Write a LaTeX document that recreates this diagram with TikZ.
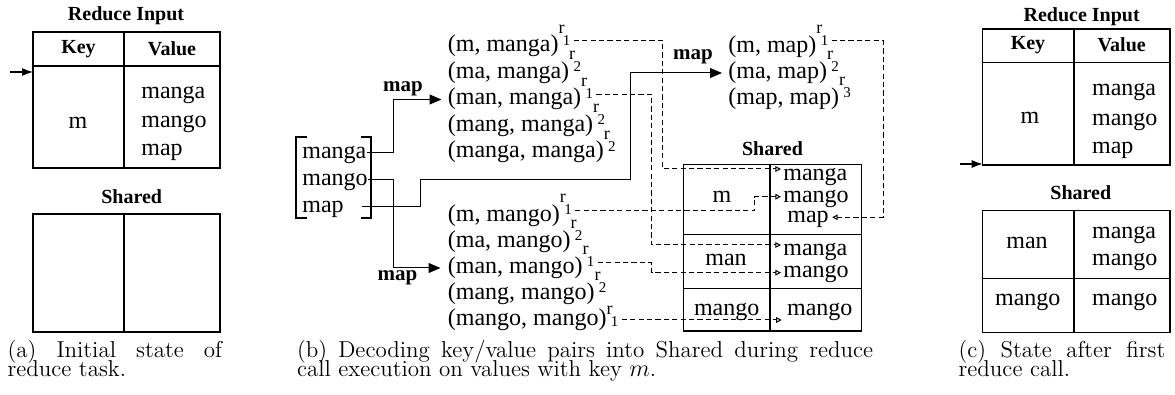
\documentclass[tikz,border=0pt]{standalone}
\usepackage{fontspec}
\newfontfamily\tms{Liberation Serif}
\usetikzlibrary{arrows.meta,calc}
\newcommand{\rsup}[2][0pt]{\raisebox{\dimexpr 9.3pt-#1\relax}{\fontsize{9}{9}\selectfont r}\kern-0.8pt\raisebox{\dimexpr 3.3pt-#1\relax}{\fontsize{7.5}{7.5}\selectfont #2}}
\begin{document}
\begin{tikzpicture}[x=0.5pt,y=-0.5pt,
  txt/.style={font=\tms\fontsize{12}{12}\selectfont, inner sep=0pt, text height=8.4pt, text depth=3pt, anchor=west},
  ctxt/.style={txt, anchor=center},
  bld/.style={font=\tms\bfseries\fontsize{10}{10}\selectfont, inner sep=0pt},
  mapl/.style={font=\tms\bfseries\fontsize{10.5}{10.5}\selectfont, inner sep=0pt},
  captxt/.style={font=\fontsize{11.5}{11.5}\selectfont, inner sep=0pt, anchor=base west},
  tbl/.style={line width=0.6pt},
  sol/.style={line width=0.5pt, -{Triangle[length=6pt,width=5pt]}},
  sarr/.style={line width=0.6pt, -{Latex[length=5.5pt,width=4pt]}},
  dsh/.style={line width=0.5pt, dash pattern=on 2.6pt off 1.6pt, -{Triangle[open,length=2.8pt,width=2.8pt]}},
]
\useasboundingbox (0,0) rectangle (1175,395);

% ---------- Panel (a)
\node[bld] (ta) at (126,16) {Reduce Input};
\draw[tbl] (33,32) rectangle (220,168);
\draw[tbl] (124,32) -- (124,168);
\draw[tbl] (33,66) -- (220,66);
\node[bld] (ka) at (78.5,49) {Key};
\node[bld] (va) at (172,49) {Value};
\node[ctxt] (kma) at (78,123) {m};
\node[txt] (va1) at (141,93) {manga};
\node[txt] (va2) at (141,122) {mango};
\node[txt] (va3) at (141,150) {map};
\coordinate (pa0) at (10,72);
\coordinate (pa1) at (33,72);
\draw[sarr] (pa0) -- (pa1);
\node[bld] (sha) at (131.7,197) {Shared};
\draw[tbl] (33,214) rectangle (220,332);
\draw[tbl] (124,214) -- (124,332);
\node[captxt] (capa1) at (7.3,357.5) {\makebox[107.2pt][s]{(a) Initial state of}};
\node[captxt] (capa2) at (7.3,377) {reduce task.};

% ---------- Panel (b)
\draw[tbl] (307,137) -- (296,137) -- (296,218) -- (307,218);
\draw[tbl] (361,137) -- (371,137) -- (371,218) -- (361,218);
\node[txt] (sg) at (302,153) {manga};
\node[txt] (so) at (302,180) {mango};
\node[txt] (sp) at (302,207) {map};

\node[txt] (t1) at (447.5,46.5) {(m, manga)\rsup{1}};
\node[txt] (t2) at (447.5,73) {(ma, manga)\rsup{2}};
\node[txt] (t3) at (447.5,99.5) {(man, manga)\rsup{1}};
\node[txt] (t4) at (447.5,126) {(mang, manga)\rsup{2}};
\node[txt] (t5) at (447.5,152.5) {(manga, manga)\rsup{2}};

\node[txt] (b1) at (447.5,216) {(m, mango)\rsup{1}};
\node[txt] (b2) at (447.5,242) {(ma, mango)\rsup{2}};
\node[txt] (b3) at (447.5,268) {(man, mango)\rsup{1}};
\node[txt] (b4) at (447.5,294) {(mang, mango)\rsup{2}};
\node[txt] (b5) at (447.5,320) {(mango, mango)\rsup[4pt]{1}};

\node[txt] (r1) at (728,47) {(m, map)\rsup{1}};
\node[txt] (r2) at (728,73) {(ma, map)\rsup{2}};
\node[txt] (r3) at (728,99) {(map, map)\rsup{3}};

\node[mapl] (lm1) at (403,89) {map};
\node[mapl] (lm2) at (397.5,278) {map};
\node[mapl] (lm3) at (693,57) {map};

\node[bld] (shb) at (772.5,148.3) {Shared};
\draw[tbl] (683.3,164.3) rectangle (861.7,331);
\draw[tbl] (770,164.3) -- (770,331);
\draw[tbl] (683.3,234.3) -- (861.7,234.3);
\draw[tbl] (683.3,288.3) -- (861.7,288.3);
\node[ctxt] (sm) at (722,196.7) {m};
\node[ctxt] (sn) at (726,260) {man};
\node[ctxt] (sgo) at (726.7,310) {mango};
\node[txt] (s1) at (783,175) {manga};
\node[txt] (s2) at (783,196.7) {mango};
\node[txt] (s3) at (787,217.3) {map};
\node[txt] (s4) at (783,250) {manga};
\node[txt] (s5) at (783,271.7) {mango};
\node[txt] (s6) at (786.7,310) {mango};

% solid connectors
\coordinate (v1) at (393,0);
\coordinate (m1) at (420,180);
\coordinate (m2) at (630,180);
\draw[sol] (sg.east) -- (sg.east -| v1) -- (v1 |- t3.west) -- ($(t3.west)+(-6,0)$);
\draw[sol] (so.east) -- (so.east -| v1) -- (v1 |- b3.west) -- ($(b3.west)+(-7,0)$);
\draw[sol] ($(sp.east)+(18,0)$) -| (m1) -- (m2) |- ($(r2.west)+(-6,0)$);

% dashed connectors
\draw[dsh] ($(t1.east)+(3,-6)$) -| (662.7,169) -- ($(s1.west)+(-2,-6)$);
\draw[dsh] ($(t3.east)+(3,-5)$) -| (651.7,245) -- ($(s4.west)+(-2,-5)$);
\draw[dsh] ($(b1.east)+(3,-5)$) -| (754.3,196.7) -- ($(s2.west)+(-2,0)$);
\draw[dsh] ($(b3.east)+(3,-5)$) -| (651.7,272.7) -- ($(s5.west)+(-2,1)$);
\draw[dsh] ($(b5.east)+(3,0)$) -- ($(b5.east -| s6.west)+(-5,0)$);
\draw[dsh] ($(r1.east)+(3,-6)$) -| (883,217.3) -- ($(s3.east)+(3,0)$);

\node[captxt] (capb1) at (296.7,357.5) {\makebox[288pt][s]{(b) Decoding key/value pairs into Shared during reduce}};
\node[captxt] (capb2) at (296.7,377) {call execution on values with key $m$.};

% ---------- Panel (c)
\node[bld] (tc) at (1081.7,16.7) {Reduce Input};
\draw[tbl] (982.7,29) rectangle (1170,165);
\draw[tbl] (1074,29) -- (1074,165);
\draw[tbl] (982.7,62.7) -- (1170,62.7);
\node[bld] (kc) at (1028,45) {Key};
\node[bld] (vc) at (1121.7,45) {Value};
\node[ctxt] (kmc) at (1030,118.3) {m};
\node[txt] (vc1) at (1091.7,90) {manga};
\node[txt] (vc2) at (1091.7,120) {mango};
\node[txt] (vc3) at (1091.7,148.3) {map};
\coordinate (pc0) at (960,164);
\coordinate (pc1) at (982.7,164);
\draw[sarr] (pc0) -- (pc1);
\node[bld] (shc) at (1080.8,192.7) {Shared};
\draw[tbl] (982.7,210.7) rectangle (1170,332.3);
\draw[tbl] (1074,210.7) -- (1074,332.3);
\draw[tbl] (982.7,278.3) -- (1170,278.3);
\node[ctxt] (cman) at (1027,243.3) {man};
\node[txt] (cv1) at (1091.7,233.3) {manga};
\node[txt] (cv2) at (1091.7,260) {mango};
\node[ctxt] (cmgo) at (1027.8,300) {mango};
\node[txt] (cv3) at (1091.7,300) {mango};
\node[captxt] (capc1) at (958.3,357.5) {\makebox[103.3pt][s]{(c) State after first}};
\node[captxt] (capc2) at (958.3,377) {reduce call.};
\end{tikzpicture}
\end{document}
